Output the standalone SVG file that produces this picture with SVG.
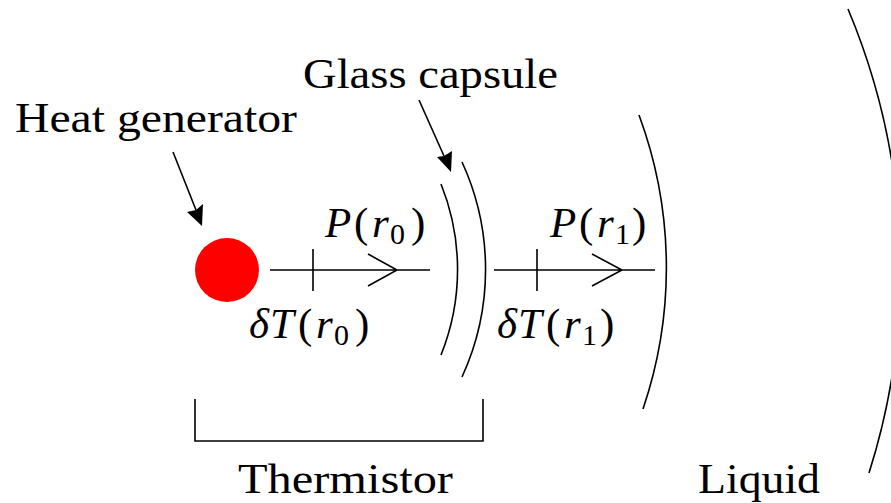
<svg xmlns="http://www.w3.org/2000/svg" width="891" height="503" viewBox="0 0 891 503">
<rect width="891" height="503" fill="#fff"/>
<g id="heat-generator">
<circle cx="227" cy="270" r="32" fill="#ff0000"/>
<text font-family="Liberation Serif" font-size="43" x="15" y="132" textLength="282" lengthAdjust="spacingAndGlyphs">Heat generator</text>
</g>
<g id="glass-capsule">
<path fill="none" stroke="#000" stroke-width="1.6" d="M441 184 A229 229 0 0 1 441 355"/>
<path fill="none" stroke="#000" stroke-width="1.6" d="M462 162 A257 257 0 0 1 462 377"/>
<text font-family="Liberation Serif" font-size="43" x="303" y="88" textLength="255" lengthAdjust="spacingAndGlyphs">Glass capsule</text>
</g>
<g id="liquid">
<path fill="none" stroke="#000" stroke-width="1.6" d="M639 115 A439 439 0 0 1 643 409"/>
<path fill="none" stroke="#000" stroke-width="1.6" d="M848 9 A672 672 0 0 1 869 473"/>
<text font-family="Liberation Serif" font-size="43" x="698" y="493" textLength="122" lengthAdjust="spacingAndGlyphs">Liquid</text>
</g>
<g id="thermistor">
<path fill="none" stroke="#000" stroke-width="1.6" d="M195 399 V441 H483 V399"/>
<text font-family="Liberation Serif" font-size="43" x="238" y="493" textLength="215" lengthAdjust="spacingAndGlyphs">Thermistor</text>
</g>
<g id="flux0">
<text font-family="Liberation Serif" font-size="43"><tspan font-style="italic" x="325" y="237">P</tspan><tspan x="354" y="237">(</tspan><tspan font-style="italic" x="372" y="237">r</tspan><tspan font-size="30" x="390" y="244">0</tspan><tspan x="411" y="237">)</tspan></text>
<text font-family="Liberation Serif" font-size="43"><tspan font-style="italic" x="249" y="338">δ</tspan><tspan font-style="italic" x="270" y="338">T</tspan><tspan x="298" y="338">(</tspan><tspan font-style="italic" x="316" y="338">r</tspan><tspan font-size="30" x="334" y="345">0</tspan><tspan x="355" y="338">)</tspan></text>
</g>
<g id="flux1">
<text font-family="Liberation Serif" font-size="43"><tspan font-style="italic" x="550" y="237">P</tspan><tspan x="579" y="237">(</tspan><tspan font-style="italic" x="597" y="237">r</tspan><tspan font-size="30" x="615" y="244">1</tspan><tspan x="632" y="237">)</tspan></text>
<text font-family="Liberation Serif" font-size="43"><tspan font-style="italic" x="497" y="338">δ</tspan><tspan font-style="italic" x="518" y="338">T</tspan><tspan x="546" y="338">(</tspan><tspan font-style="italic" x="564" y="338">r</tspan><tspan font-size="30" x="582" y="345">1</tspan><tspan x="600" y="338">)</tspan></text>
</g>
<g id="connectors">
<line fill="none" stroke="#000" stroke-width="1.6" x1="173" y1="152" x2="196" y2="210"/>
<path fill="#000" d="M202 226 L187 212 L196 210 L203 204 Z"/>
<line fill="none" stroke="#000" stroke-width="1.6" x1="419" y1="100" x2="444" y2="156"/>
<path fill="#000" d="M451 172 L437 157 L444 156 L452 151 Z"/>
<path fill="none" stroke="#000" stroke-width="1.6" d="M270 270 H430 M313 249 V291 M368 254 L397 270 L368 286"/>
<path fill="none" stroke="#000" stroke-width="1.6" d="M494 270 H655 M537 249 V291 M592 254 L622 270 L592 286"/>
</g>
</svg>
